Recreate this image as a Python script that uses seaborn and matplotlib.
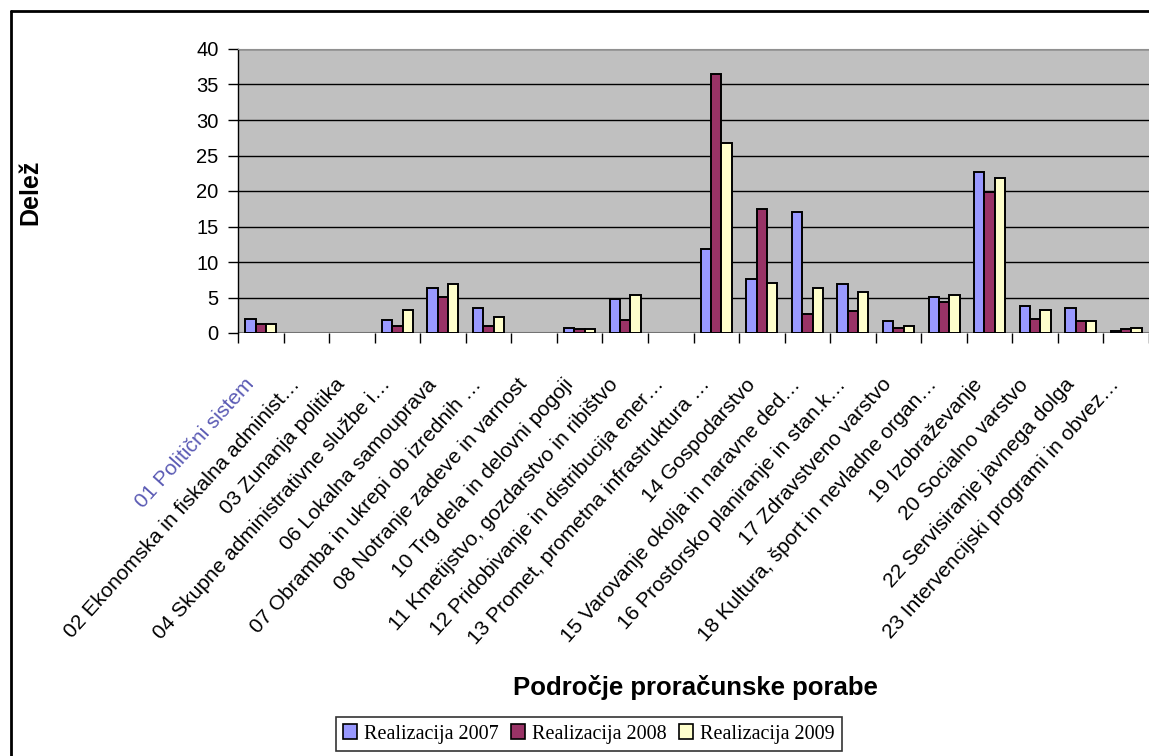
import numpy as np
import pandas as pd
import matplotlib
matplotlib.use("Agg")
import matplotlib.pyplot as plt
import seaborn as sns
from matplotlib.lines import Line2D
from matplotlib.ticker import FixedLocator, MultipleLocator
import matplotlib.transforms as mtransforms

# Data
categories = [
    "01 Politični sistem",
    "02 Ekonomska in fiskalna administ…",
    "03 Zunanja politika",
    "04 Skupne administrativne službe i…",
    "06 Lokalna samouprava",
    "07 Obramba in ukrepi ob izrednih …",
    "08 Notranje zadeve in varnost",
    "10 Trg dela in delovni pogoji",
    "11 Kmetijstvo, gozdarstvo in ribištvo",
    "12 Pridobivanje in distribucija ener…",
    "13 Promet, prometna infrastruktura …",
    "14 Gospodarstvo",
    "15 Varovanje okolja in naravne ded…",
    "16 Prostorsko planiranje in stan.k…",
    "17 Zdravstveno varstvo",
    "18 Kultura, šport in nevladne organ…",
    "19 Izobraževanje",
    "20 Socialno varstvo",
    "22 Servisiranje javnega dolga",
    "23 Intervencijski programi in obvez…",
]
nan = np.nan
real_2007 = [2.0, nan, nan, 1.8, 6.3, 3.5, nan, 0.75, 4.8, nan, 11.9, 7.6, 17.0, 6.9, 1.75, 5.1, 22.7, 3.8, 3.5, 0.25]
real_2008 = [1.2, nan, nan, 1.0, 5.1, 1.0, nan, 0.5, 1.8, nan, 36.5, 17.5, 2.7, 3.1, 0.7, 4.3, 19.8, 2.0, 1.75, 0.5]
real_2009 = [1.2, nan, nan, 3.3, 6.9, 2.3, nan, 0.5, 5.3, nan, 26.7, 7.1, 6.35, 5.8, 1.0, 5.3, 21.9, 3.3, 1.75, 0.75]
series = ["Realizacija 2007", "Realizacija 2008", "Realizacija 2009"]
colors = ["#9999FF", "#993366", "#FFFFCC"]

# long-form table for seaborn
rows = []
for name, vals in zip(series, [real_2007, real_2008, real_2009]):
    for cat, v in zip(categories, vals):
        rows.append({"Področje": cat, "Serija": name, "Delež": v})
df = pd.DataFrame(rows).dropna()

sns.set_style("white")
plt.rcParams["font.family"] = ["Liberation Sans", "DejaVu Sans"]
plt.rcParams["text.color"] = "black"
plt.rcParams["xtick.color"] = "black"
plt.rcParams["ytick.color"] = "black"

fig = plt.figure(figsize=(11.49, 7.56), dpi=100)
ax = fig.add_axes([238 / 1149, 1 - 333 / 756, 1 - 238 / 1149, (333 - 49) / 756])

sns.barplot(data=df, x="Področje", y="Delež", hue="Serija", order=categories,
            hue_order=series, palette=colors, width=0.68, saturation=1,
            edgecolor="black", linewidth=1.4, errorbar=None, ax=ax, legend=True)

ax.set_facecolor("#C0C0C0")
ax.set_xlim(-0.5, len(categories) - 0.5)
ax.set_ylim(0, 40)
ax.yaxis.set_major_locator(MultipleLocator(5))
ax.grid(axis="y", color="black", linewidth=1.0)
ax.set_axisbelow(True)
for s in ["right", "bottom"]:
    ax.spines[s].set_visible(False)
ax.spines["top"].set_color("#909090")
ax.spines["left"].set_color("black")
ax.spines["left"].set_linewidth(1.0)
ax.axhline(0, color="#909090", linewidth=1.5, zorder=0.5)

ax.tick_params(axis="y", direction="out", length=7, width=1, color="black",
               labelsize=14.5, pad=7, left=True)
ax.set_ylabel("")
ax.set_xlabel("")

# x ticks at category boundaries, labels at centres
ax.xaxis.set_minor_locator(FixedLocator(np.arange(-0.5, len(categories), 1.0)))
ax.tick_params(axis="x", which="minor", direction="out", length=7, width=1,
               color="black", bottom=True)
ax.tick_params(axis="x", which="major", length=0, labelsize=15, pad=0)
ax.set_xticks(range(len(categories)))
ax.set_xticklabels(categories, rotation=48, ha="right", rotation_mode="anchor")
offset = mtransforms.ScaledTranslation(-0.17, -0.42, fig.dpi_scale_trans)
for i, lab in enumerate(ax.get_xticklabels()):
    lab.set_transform(lab.get_transform() + offset)
    if i == 0:
        lab.set_color("#5a5ab4")

ax.get_legend().remove()
handles = [plt.Rectangle((0, 0), 1, 1, facecolor=c, edgecolor="black", linewidth=1.2) for c in colors]
leg = fig.legend(handles, series, loc="center", bbox_to_anchor=(589 / 1149, 1 - 734 / 756),
                 ncol=3, frameon=True, fancybox=False, edgecolor="black",
                 prop={"family": "Liberation Serif", "size": 14.5},
                 handlelength=0.7, handleheight=0.7, handletextpad=0.35,
                 columnspacing=0.6, borderpad=0.35)
leg.get_frame().set_linewidth(1.2)

fig.text(30 / 1149, 1 - 192 / 756, "Delež", rotation=90, ha="center", va="center",
         fontsize=18, fontweight="bold")
fig.text(695 / 1149, 1 - 687 / 756, "Področje proračunske porabe", ha="center",
         va="center", fontsize=18.5, fontweight="bold")

# outer frame (left and top edges visible)
fig.add_artist(Line2D([11 / 1149, 11 / 1149], [0, 1 - 11 / 756], transform=fig.transFigure,
                      color="black", linewidth=2))
fig.add_artist(Line2D([11 / 1149, 1], [1 - 11 / 756, 1 - 11 / 756], transform=fig.transFigure,
                      color="black", linewidth=2))

fig.savefig("out.png", dpi=100)
